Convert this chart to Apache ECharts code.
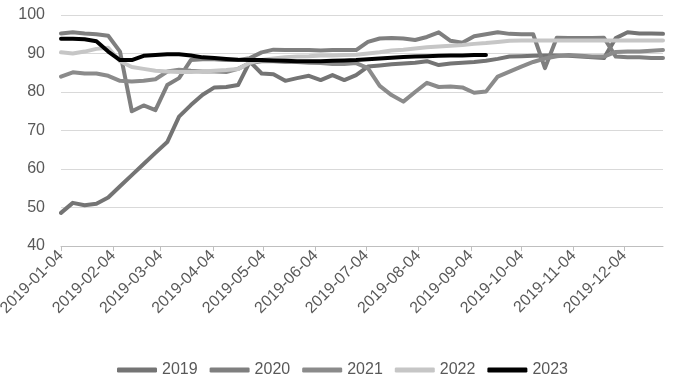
<!DOCTYPE html>
<html><head><meta charset="utf-8">
<script src="https://cdn.jsdelivr.net/npm/echarts@6/dist/echarts.min.js"></script>
<style>html,body{margin:0;padding:0;background:#fff}#c{width:673px;height:389px}</style>
</head><body><div id="c"></div>
<script>
// weekly data, first week 2019-01-04, one point every 7 days
var startDate = [2019, 0, 4];
var endDayOffset = 357; // 2019-12-27
var seriesNames = ['2019', '2020', '2021', '2022', '2023'];
var s2019 = [48.6,51.2,50.6,51.0,52.6,55.5,58.4,61.3,64.2,67.0,73.6,76.6,79.3,81.2,81.3,81.8,87.9,84.8,84.6,82.9,83.6,84.2,83.1,84.4,83.1,84.4,86.6,86.9,87.2,87.4,87.6,88.0,87.0,87.4,87.6,87.8,88.1,88.6,89.2,89.3,89.4,89.5,89.5,89.4,89.2,89.0,88.8,94.0,95.5,95.2,95.2,95.1];
var s2020 = [95.2,95.5,95.2,95.0,94.6,90.5,75.0,76.5,75.3,81.8,83.6,88.3,88.5,88.5,88.3,88.3,88.8,90.3,91.0,90.9,90.9,90.9,90.8,90.9,90.9,90.9,93.0,93.9,94.0,93.9,93.5,94.3,95.5,93.3,92.8,94.5,95.0,95.5,95.1,95.0,95.0,86.2,94.1,94.0,94.0,94.0,94.1,89.2,89.0,89.0,88.8,88.8];
var s2021 = [84.0,85.1,84.8,84.8,84.2,82.9,82.7,82.9,83.3,85.3,85.8,85.5,85.3,85.3,85.2,86.0,87.5,88.0,88.0,87.8,87.8,87.6,87.5,87.3,87.3,87.5,86.2,81.6,79.2,77.5,80.0,82.4,81.3,81.4,81.2,79.8,80.1,84.0,85.3,86.6,87.8,88.7,89.3,89.6,89.4,89.2,89.2,90.4,90.5,90.5,90.7,90.9];
var s2022 = [90.3,90.0,90.5,91.2,91.5,88.0,86.5,86.0,85.5,85.3,85.2,85.2,85.3,85.5,85.7,86.0,87.6,88.3,88.7,89.0,89.2,89.3,89.5,89.5,89.6,89.7,90.0,90.3,90.8,91.0,91.3,91.6,91.8,92.0,92.2,92.5,92.7,93.0,93.3,93.4,93.4,93.4,93.4,93.4,93.4,93.4,93.4,93.4,93.4,93.4,93.4,93.4];
var s2023 = [93.8,93.8,93.7,93.2,90.5,88.3,88.3,89.4,89.6,89.8,89.8,89.5,89.0,88.8,88.6,88.4,88.3,88.3,88.2,88.1,88.0,88.0,88.0,88.1,88.2,88.3,88.5,88.7,88.9,89.1,89.2,89.3,89.4,89.5,89.5,89.6,89.6];
var colors = ['#747474', '#7f7f7f', '#8b8b8b', '#c6c6c6', '#000000'];
var yTicks = [40, 50, 60, 70, 80, 90, 100];

function pad(n){ return (n < 10 ? '0' : '') + n; }
var dayCats = [];
var t0 = Date.UTC(startDate[0], startDate[1], startDate[2]);
for (var k = 0; k <= endDayOffset; k++) {
  var d = new Date(t0 + k * 86400000);
  dayCats.push(d.getUTCFullYear() + '-' + pad(d.getUTCMonth() + 1) + '-' + pad(d.getUTCDate()));
}
function toPts(arr){ return arr.map(function(v, i){ return [i * 7, v]; }); }
var all = [s2019, s2020, s2021, s2022, s2023];
var isTick = function(idx, val){ return /-04$/.test(val); };

var font = 'Liberation Sans';
var chart = echarts.init(document.getElementById('c'));
chart.setOption({
  animation: false,
  backgroundColor: '#fff',
  grid: { left: 61, right: 10, top: 15, bottom: 143, containLabel: false, outerBoundsMode: 'none' },
  legend: {
    bottom: 11, left: 117, padding: 0,
    icon: 'roundRect', itemWidth: 40, itemHeight: 5, itemGap: 12,
    textStyle: { fontFamily: font, fontSize: 16, color: '#595959' },
    data: seriesNames
  },
  xAxis: {
    type: 'category', data: dayCats, boundaryGap: false,
    axisLine: { lineStyle: { color: '#bfbfbf', width: 1 } },
    axisTick: { show: true, interval: isTick, length: 5, lineStyle: { color: '#bfbfbf' } },
    axisLabel: { interval: isTick, rotate: 45, margin: 7, fontFamily: font, fontSize: 16, color: '#595959' },
    splitLine: { show: false }
  },
  yAxis: {
    type: 'value', min: yTicks[0], max: yTicks[yTicks.length - 1], interval: 10,
    axisLine: { show: false }, axisTick: { show: false },
    axisLabel: { margin: 16, fontFamily: font, fontSize: 16, color: '#595959' },
    splitLine: { lineStyle: { color: '#d9d9d9', width: 1 } }
  },
  series: seriesNames.map(function(n, i){
    return {
      name: n, type: 'line', data: toPts(all[i]), symbol: 'none', smooth: false,
      lineStyle: { color: colors[i], width: 4, join: 'round', cap: 'round' },
      itemStyle: { color: colors[i] }
    };
  })
});
</script></body></html>
